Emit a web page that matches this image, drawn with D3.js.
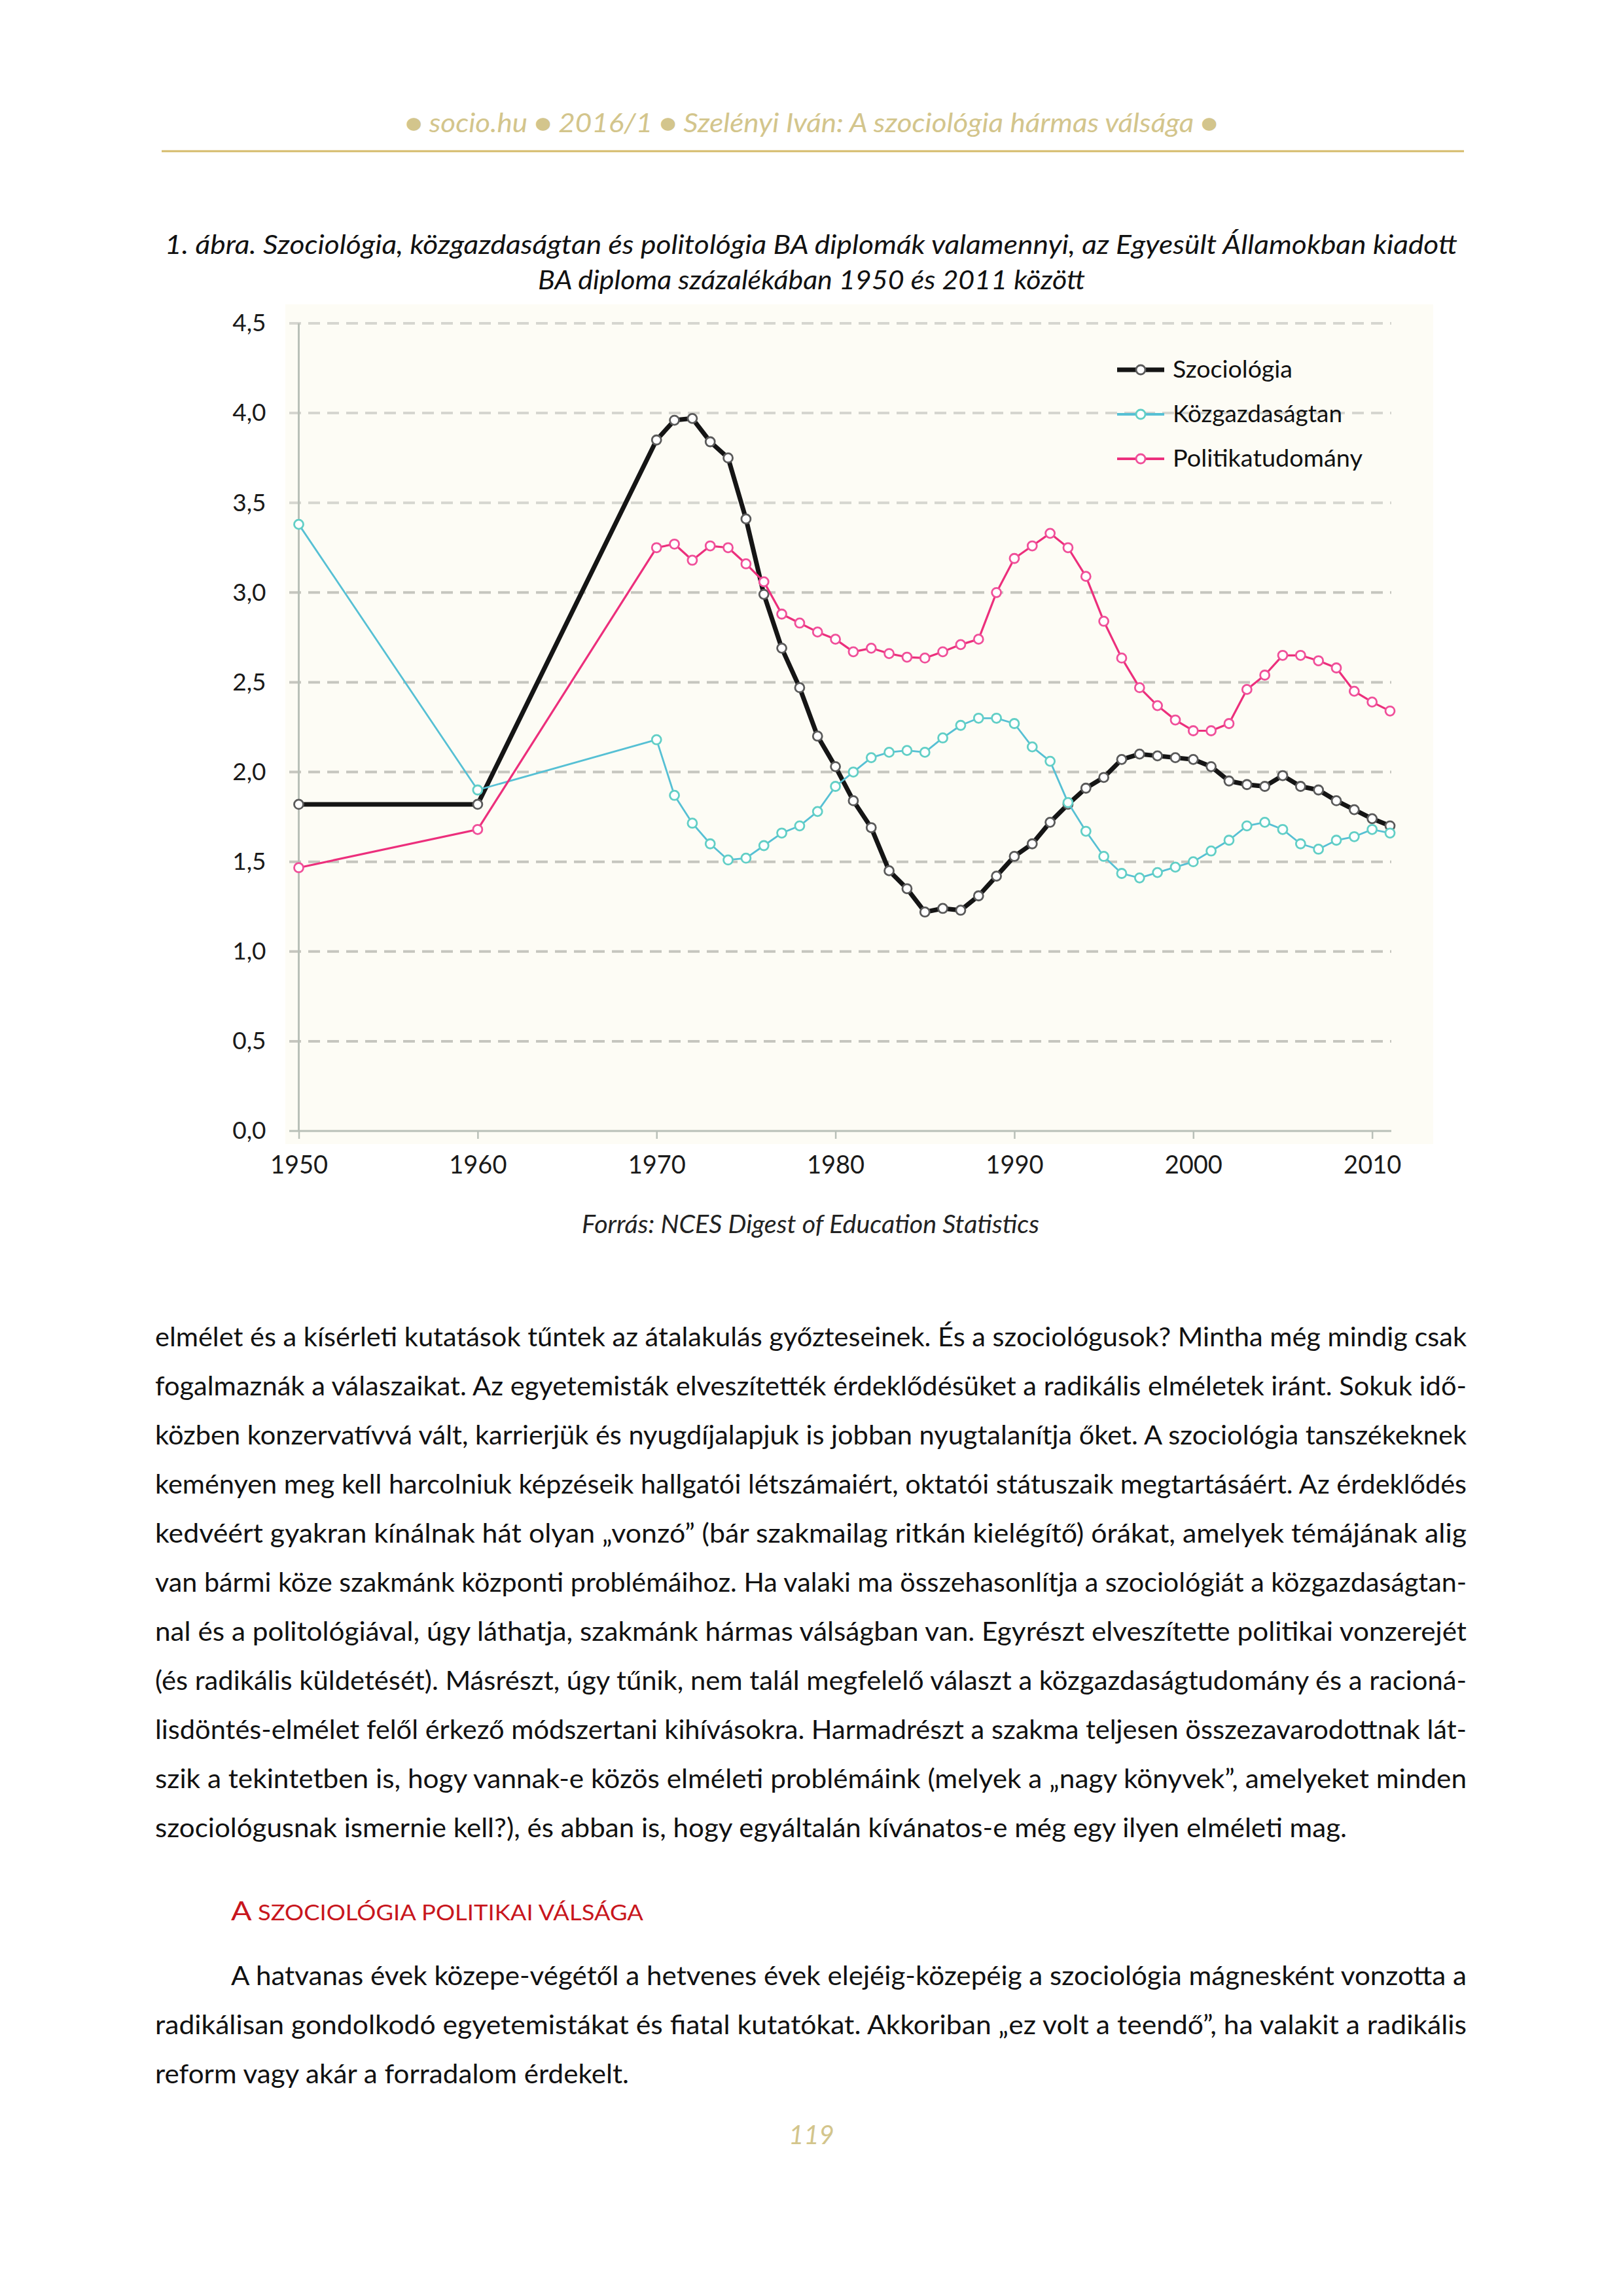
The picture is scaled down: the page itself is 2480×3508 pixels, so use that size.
<!DOCTYPE html>
<html>
<head>
<meta charset="utf-8">
<script src="https://cdn.jsdelivr.net/npm/d3@7"></script>
<style>
  body { margin: 0; background: #fff; }
  svg { display: block; }
</style>
</head>
<body>
<script>
// adatok (az abrarol leolvasva)
var years = [1950, 1960, 1970, 1971, 1972, 1973, 1974, 1975, 1976, 1977, 1978, 1979,
  1980, 1981, 1982, 1983, 1984, 1985, 1986, 1987, 1988, 1989, 1990, 1991, 1992, 1993,
  1994, 1995, 1996, 1997, 1998, 1999, 2000, 2001, 2002, 2003, 2004, 2005, 2006, 2007,
  2008, 2009, 2010, 2011];

var szociologia = [1.82, 1.82, 3.85, 3.96, 3.97, 3.84, 3.75, 3.41, 2.99, 2.69, 2.47, 2.20,
  2.03, 1.84, 1.69, 1.45, 1.35, 1.22, 1.24, 1.23, 1.31, 1.42, 1.53, 1.60, 1.72, 1.82,
  1.91, 1.97, 2.07, 2.10, 2.09, 2.08, 2.07, 2.03, 1.95, 1.93, 1.92, 1.98, 1.92, 1.90,
  1.84, 1.79, 1.74, 1.70];

var kozgazdasagtan = [3.38, 1.90, 2.18, 1.87, 1.715, 1.60, 1.51, 1.52, 1.59, 1.66, 1.70, 1.78,
  1.92, 2.00, 2.08, 2.11, 2.12, 2.11, 2.19, 2.26, 2.30, 2.30, 2.27, 2.14, 2.06, 1.83,
  1.67, 1.53, 1.435, 1.41, 1.44, 1.47, 1.50, 1.56, 1.62, 1.70, 1.72, 1.68, 1.60, 1.57,
  1.62, 1.64, 1.68, 1.66];

var politikatudomany = [1.467, 1.68, 3.25, 3.27, 3.18, 3.26, 3.25, 3.16, 3.06, 2.88, 2.83, 2.78,
  2.74, 2.67, 2.69, 2.66, 2.64, 2.635, 2.67, 2.71, 2.74, 3.00, 3.19, 3.26, 3.33, 3.25,
  3.09, 2.84, 2.635, 2.47, 2.37, 2.29, 2.23, 2.23, 2.27, 2.46, 2.54, 2.65, 2.65, 2.62,
  2.58, 2.45, 2.39, 2.34];

var seriesNames = ["Szociológia", "Közgazdaságtan", "Politikatudomány"];
var xTicks = [1950, 1960, 1970, 1980, 1990, 2000, 2010];
var yTicks = [0, 0.5, 1, 1.5, 2, 2.5, 3, 3.5, 4, 4.5];

// szovegek
var header = "● socio.hu ● 2016/1 ● Szelényi Iván: A szociológia hármas válsága ●";
var caption = ["1. ábra. Szociológia, közgazdaságtan és politológia BA diplomák valamennyi, az Egyesült Államokban kiadott",
  "BA diploma százalékában 1950 és 2011 között"];
var source = "Forrás: NCES Digest of Education Statistics";
var body1 = [
  "elmélet és a kísérleti kutatások tűntek az átalakulás győzteseinek. És a szociológusok? Mintha még mindig csak",
  "fogalmaznák a válaszaikat. Az egyetemisták elveszítették érdeklődésüket a radikális elméletek iránt. Sokuk idő-",
  "közben konzervatívvá vált, karrierjük és nyugdíjalapjuk is jobban nyugtalanítja őket. A szociológia tanszékeknek",
  "keményen meg kell harcolniuk képzéseik hallgatói létszámaiért, oktatói státuszaik megtartásáért. Az érdeklődés",
  "kedvéért gyakran kínálnak hát olyan „vonzó” (bár szakmailag ritkán kielégítő) órákat, amelyek témájának alig",
  "van bármi köze szakmánk központi problémáihoz. Ha valaki ma összehasonlítja a szociológiát a közgazdaságtan-",
  "nal és a politológiával, úgy láthatja, szakmánk hármas válságban van. Egyrészt elveszítette politikai vonzerejét",
  "(és radikális küldetését). Másrészt, úgy tűnik, nem talál megfelelő választ a közgazdaságtudomány és a racioná-",
  "lisdöntés-elmélet felől érkező módszertani kihívásokra. Harmadrészt a szakma teljesen összezavarodottnak lát-",
  "szik a tekintetben is, hogy vannak-e közös elméleti problémáink (melyek a „nagy könyvek”, amelyeket minden",
  "szociológusnak ismernie kell?), és abban is, hogy egyáltalán kívánatos-e még egy ilyen elméleti mag."
];
var heading = ["A", " SZOCIOLÓGIA POLITIKAI VÁLSÁGA"];
var body2 = [
  "A hatvanas évek közepe-végétől a hetvenes évek elejéig-közepéig a szociológia mágnesként vonzotta a",
  "radikálisan gondolkodó egyetemistákat és fiatal kutatókat. Akkoriban „ez volt a teendő”, ha valakit a radikális",
  "reform vagy akár a forradalom érdekelt."
];
var pageNum = "119";

var W = 2480, H = 3508;
var font = "Lato, 'Open Sans', sans-serif";
var gold = "#d3c58c";

var svg = d3.select("body").append("svg")
  .attr("width", W).attr("height", H)
  .attr("viewBox", [0, 0, W, H])
  .attr("font-family", font);

// fejlec
svg.append("text")
  .attr("x", 619).attr("y", 202)
  .attr("font-style", "italic").attr("font-size", 40)
  .attr("fill", gold)
  .attr("textLength", 1242).attr("lengthAdjust", "spacingAndGlyphs")
  .text(header);
svg.append("line")
  .attr("x1", 247).attr("x2", 2237).attr("y1", 231).attr("y2", 231)
  .attr("stroke", "#d5bb6a").attr("stroke-width", 3);

// abracim
var capW = [[252, 1975], [822, 836]];
caption.forEach(function(c, i) {
  svg.append("text")
    .attr("x", capW[i][0]).attr("y", 388 + i * 54)
    .attr("font-style", "italic").attr("font-size", 41)
    .attr("fill", "#111")
    .attr("textLength", capW[i][1]).attr("lengthAdjust", "spacingAndGlyphs")
    .text(c);
});

// grafikon
var x = d3.scaleLinear().domain([1950, 2011]).range([456.5, 2124]);
var y = d3.scaleLinear().domain([0, 4.5]).range([1728, 494]);

svg.append("rect")
  .attr("x", 436).attr("y", 465).attr("width", 1754).attr("height", 1283)
  .attr("fill", "#fdfcf5");

// racsvonalak
svg.append("g")
  .selectAll("line")
  .data(yTicks.filter(function(d) { return d > 0; }))
  .join("line")
    .attr("x1", 442).attr("x2", 2126)
    .attr("y1", function(d) { return y(d); })
    .attr("y2", function(d) { return y(d); })
    .attr("stroke", function(d) { return d >= 3.5 ? "#d6d6d0" : "#c6c6bf"; })
    .attr("stroke-width", 4)
    .attr("stroke-dasharray", "18,11");

// tengelyek
var yAxis = svg.append("g")
  .attr("transform", "translate(456.5,0)")
  .call(d3.axisLeft(y).tickValues(yTicks).tickSize(0).tickPadding(50)
    .tickFormat(function(d) { return d.toFixed(1).replace(".", ","); }));
yAxis.select(".domain").remove();
yAxis.selectAll("text")
  .attr("font-family", font).attr("font-size", 37).attr("fill", "#1a1a1a");

svg.append("line")
  .attr("x1", 456.5).attr("x2", 456.5).attr("y1", y(4.5)).attr("y2", y(0))
  .attr("stroke", "#b9c0b8").attr("stroke-width", 3);

var xAxis = svg.append("g")
  .attr("transform", "translate(0,1728)")
  .call(d3.axisBottom(x).tickValues(xTicks).tickSize(12).tickPadding(26)
    .tickFormat(d3.format("d")));
xAxis.select(".domain")
  .attr("d", "M442,0H2126")
  .attr("stroke", "#b9c0b8").attr("stroke-width", 3);
xAxis.selectAll(".tick line").attr("stroke", "#b9c0b8").attr("stroke-width", 2.5);
xAxis.selectAll("text")
  .attr("font-family", font).attr("font-size", 38).attr("fill", "#1a1a1a");

// vonalak
var series = [
  { name: seriesNames[0], values: szociologia, color: "#151515", width: 7, mark: "#5a5a5a" },
  { name: seriesNames[1], values: kozgazdasagtan, color: "#56c0d4", width: 2.8, mark: "#62cfc6" },
  { name: seriesNames[2], values: politikatudomany, color: "#ec2f7c", width: 3.2, mark: "#f0509a" }
];

var line = d3.line()
  .x(function(d, i) { return x(years[i]); })
  .y(function(d) { return y(d); });

series.forEach(function(s) {
  var g = svg.append("g");
  g.append("path")
    .attr("d", line(s.values))
    .attr("fill", "none")
    .attr("stroke", s.color)
    .attr("stroke-width", s.width)
    .attr("stroke-linejoin", "round");
  g.selectAll("circle")
    .data(s.values)
    .join("circle")
      .attr("cx", function(d, i) { return x(years[i]); })
      .attr("cy", function(d) { return y(d); })
      .attr("r", 7)
      .attr("fill", "#ffffff")
      .attr("stroke", s.mark)
      .attr("stroke-width", 2.8);
});

// jelmagyarazat
var legW = [183, 259, 290];
var leg = svg.append("g")
  .selectAll("g")
  .data(series)
  .join("g")
    .attr("transform", function(d, i) { return "translate(0," + (565 + i * 68) + ")"; });
leg.append("line")
  .attr("x1", 1707).attr("x2", 1779)
  .attr("stroke", function(d) { return d.color; })
  .attr("stroke-width", function(d, i) { return i === 0 ? 7 : 4; });
leg.append("circle")
  .attr("cx", 1743).attr("r", 7)
  .attr("fill", "#fff")
  .attr("stroke", function(d) { return d.mark; })
  .attr("stroke-width", 2.8);
leg.append("text")
  .attr("x", 1792).attr("y", 12)
  .attr("font-size", 37).attr("fill", "#111")
  .attr("textLength", function(d, i) { return legW[i]; })
  .attr("lengthAdjust", "spacingAndGlyphs")
  .text(function(d) { return d.name; });

// forras
svg.append("text")
  .attr("x", 889).attr("y", 1884)
  .attr("font-style", "italic").attr("font-size", 38).attr("fill", "#222")
  .attr("textLength", 699).attr("lengthAdjust", "spacingAndGlyphs")
  .text(source);

// folyoszoveg
var bodySize = 41;
body1.forEach(function(t, i) {
  var last = i === body1.length - 1;
  svg.append("text")
    .attr("x", 237).attr("y", 2057 + i * 75)
    .attr("font-size", bodySize).attr("fill", "#111")
    .attr("textLength", last ? 1821 : 2004).attr("lengthAdjust", "spacingAndGlyphs")
    .text(t);
});

var h = svg.append("text")
  .attr("x", 353).attr("y", 2934)
  .attr("fill", "#c8161d")
  .attr("textLength", 630).attr("lengthAdjust", "spacingAndGlyphs");
h.append("tspan").attr("font-size", 41).text(heading[0]);
h.append("tspan").attr("font-size", 32).text(heading[1]);

var b2 = [[353, 1888], [237, 2004], [237, 724]];
body2.forEach(function(t, i) {
  svg.append("text")
    .attr("x", b2[i][0]).attr("y", 3033 + i * 75)
    .attr("font-size", bodySize).attr("fill", "#111")
    .attr("textLength", b2[i][1]).attr("lengthAdjust", "spacingAndGlyphs")
    .text(t);
});

svg.append("text")
  .attr("x", 1240).attr("y", 3276)
  .attr("text-anchor", "middle")
  .attr("font-style", "italic").attr("font-size", 40)
  .attr("fill", gold)
  .text(pageNum);
</script>
</body>
</html>
